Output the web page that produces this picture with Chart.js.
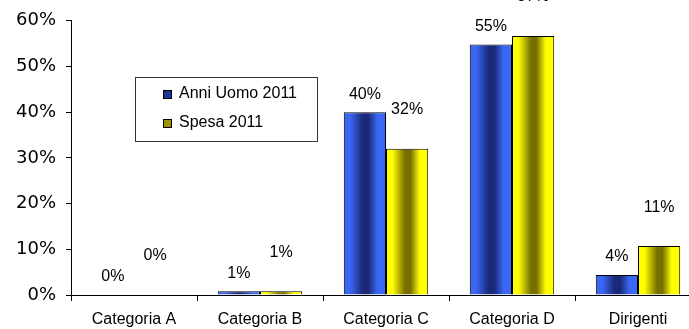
<!DOCTYPE html>
<html>
<head>
<meta charset="utf-8">
<script src="https://cdn.jsdelivr.net/npm/chart.js@4/dist/chart.umd.min.js"></script>
<style>
html, body { margin: 0; padding: 0; overflow: hidden; background: #fff; }
#wrap { width: 701px; height: 329px; }
</style>
</head>
<body>
<div id="wrap"><canvas id="chart"></canvas></div>
<script>
// --- Data ---
const categories = ['Categoria A', 'Categoria B', 'Categoria C', 'Categoria D', 'Dirigenti'];
const seriesNames = ['Anni Uomo 2011', 'Spesa 2011'];
const anniUomo = [0, 0.8, 40, 54.8, 4.4];
const spesa = [0, 0.8, 32, 56.7, 10.7];
const yTicks = [0, 10, 20, 30, 40, 50, 60];

// --- Styles ---
const CAT_PCT = 0.67;
const blueStops = ['#3a68f4', '#1a2878', '#3a68f4'];
const yellowStops = ['#ffff00', '#777000', '#ffff00'];
const labelOffset = [18, 39];
const FONT = '"Liberation Sans", Arial, sans-serif';

// horizontal stripe gradient for each bar
function barGradient(context, stops) {
    const chart = context.chart;
    const xs = chart.scales.x;
    if (!xs || !chart.chartArea) return stops[0];
    const catW = xs.width / categories.length;
    const barW = catW * CAT_PCT / 2;
    const center = xs.getPixelForValue(context.dataIndex);
    const left = context.datasetIndex === 0 ? center - barW : center;
    const g = chart.ctx.createLinearGradient(left, 0, left + barW, 0);
    g.addColorStop(0, stops[0]);
    g.addColorStop(0.15, stops[0]);
    g.addColorStop(0.45, stops[1]);
    g.addColorStop(0.58, stops[1]);
    g.addColorStop(0.8, stops[2]);
    g.addColorStop(1, stops[2]);
    return g;
}

// --- Value labels above bars ---
const valueLabels = {
    id: 'valueLabels',
    afterDatasetsDraw(chart) {
        const ctx = chart.ctx;
        ctx.save();
        ctx.font = '16px ' + FONT;
        ctx.fillStyle = '#000';
        ctx.textAlign = 'center';
        ctx.textBaseline = 'middle';
        chart.data.datasets.forEach((ds, di) => {
            chart.getDatasetMeta(di).data.forEach((el, i) => {
                ctx.fillText(Math.round(ds.data[i]) + '%', el.x, el.y - labelOffset[di]);
            });
        });
        ctx.restore();
    }
};

// --- Legend box inside the plot ---
const boxLegend = {
    id: 'boxLegend',
    afterDraw(chart) {
        const ctx = chart.ctx;
        ctx.save();
        ctx.fillStyle = '#fff';
        ctx.fillRect(135, 77, 182, 64);
        ctx.strokeStyle = '#333';
        ctx.lineWidth = 1;
        ctx.strokeRect(135.5, 77.5, 182, 64);
        const swatch = ['#1f3596', '#9c9400'];
        const rows = [94, 123];
        ctx.font = '16px ' + FONT;
        ctx.textBaseline = 'middle';
        rows.forEach((y, i) => {
            ctx.fillStyle = swatch[i];
            ctx.fillRect(164, y - 3, 7, 7);
            ctx.strokeStyle = '#000';
            ctx.strokeRect(163.5, y - 3.5, 8, 8);
            ctx.fillStyle = '#000';
            ctx.fillText(seriesNames[i], 179, y);
        });
        ctx.restore();
    }
};

new Chart(document.getElementById('chart'), {
    type: 'bar',
    data: {
        labels: categories,
        datasets: [
            {
                label: seriesNames[0],
                data: anniUomo,
                backgroundColor: (c) => barGradient(c, blueStops),
                borderColor: '#000',
                borderWidth: 1,
                categoryPercentage: CAT_PCT,
                barPercentage: 1
            },
            {
                label: seriesNames[1],
                data: spesa,
                backgroundColor: (c) => barGradient(c, yellowStops),
                borderColor: '#000',
                borderWidth: 1,
                categoryPercentage: CAT_PCT,
                barPercentage: 1
            }
        ]
    },
    options: {
        responsive: true,
        maintainAspectRatio: false,
        animation: false,
        layout: { padding: { top: 19, right: 0, bottom: 0, left: 0 } },
        plugins: {
            legend: { display: false },
            tooltip: { enabled: false }
        },
        scales: {
            x: {
                offset: true,
                grid: { display: true, drawOnChartArea: false, offset: true, tickLength: 6, color: '#000' },
                border: { color: '#000', width: 1 },
                ticks: {
                    color: '#000',
                    padding: 9,
                    font: { family: FONT, size: 16 }
                },
                afterFit(scale) { scale.height = 34; }
            },
            y: {
                min: yTicks[0],
                max: yTicks[yTicks.length - 1],
                afterBuildTicks(scale) { scale.ticks = yTicks.map(v => ({ value: v })); },
                grid: { display: true, drawOnChartArea: false, tickLength: 5, color: '#000' },
                border: { color: '#000', width: 1 },
                ticks: {
                    color: '#000',
                    padding: 10,
                    font: { family: '"DejaVu Sans", Verdana, sans-serif', size: 18 },
                    callback: (v) => v + '%'
                },
                afterFit(scale) { scale.width = 71; }
            }
        }
    },
    plugins: [valueLabels, boxLegend]
});
</script>
</body>
</html>
